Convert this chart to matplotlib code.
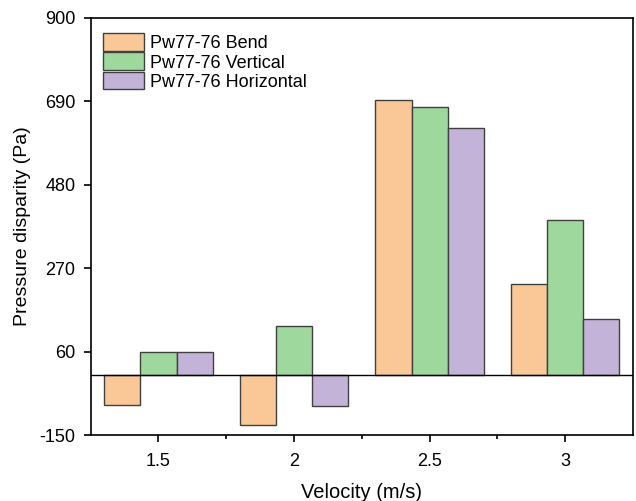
import matplotlib
matplotlib.use("Agg")
import matplotlib.pyplot as plt
import numpy as np

plt.rcParams['font.family'] = ['Liberation Sans', 'DejaVu Sans']
plt.rcParams['axes.unicode_minus'] = False

velocities = [1.5, 2.0, 2.5, 3.0]
tick_labels = ['1.5', '2', '2.5', '3']
minor_ticks = [1.75, 2.25, 2.75]
bend = [-75, -126, 693, 231]
vertical = [60, 124, 675, 390]
horizontal = [60, -78, 621, 141]
series_names = ['Pw77-76 Bend', 'Pw77-76 Vertical', 'Pw77-76 Horizontal']
colors = ['#FAC896', '#9FD89D', '#C3B3D8']
y_ticks = [-150, 60, 270, 480, 690, 900]

fig = plt.figure(figsize=(6.36, 5.01), dpi=100)
ax = fig.add_axes([0.1426, 0.1317, 0.8527, 0.8333])

w = 0.4 / 3
x = np.array(velocities)
for i, (vals, name, c) in enumerate(zip([bend, vertical, horizontal], series_names, colors)):
    ax.bar(x + (i - 1) * w, vals, width=w, color=c, edgecolor='#404040',
           linewidth=1.0, label=name, zorder=2)

ax.axhline(0, color='black', linewidth=1.0, zorder=3)

ax.set_xlim(1.25, 3.25)
ax.set_ylim(-150, 900)
ax.set_yticks(y_ticks)
ax.set_xticks(velocities)
ax.set_xticklabels(tick_labels)
ax.set_xticks(minor_ticks, minor=True)

for s in ax.spines.values():
    s.set_linewidth(1.2)
ax.tick_params(axis='both', which='major', direction='out', length=5, width=1.2,
               labelsize=13)
ax.tick_params(axis='x', which='major', pad=8)
ax.tick_params(axis='y', which='major', pad=6)
ax.tick_params(axis='x', which='minor', direction='out', length=3, width=1.2)

ax.set_xlabel('Velocity (m/s)', fontsize=14.5, labelpad=9)
ax.set_ylabel('Pressure disparity (Pa)', fontsize=14, labelpad=6)

ax.legend(loc='upper left', bbox_to_anchor=(0.022, 0.962), frameon=False,
          fontsize=13, handlelength=2.3, handleheight=1.15, handletextpad=0.3,
          labelspacing=0.0, borderpad=0, borderaxespad=0)

fig.savefig('out.png', dpi=100)
